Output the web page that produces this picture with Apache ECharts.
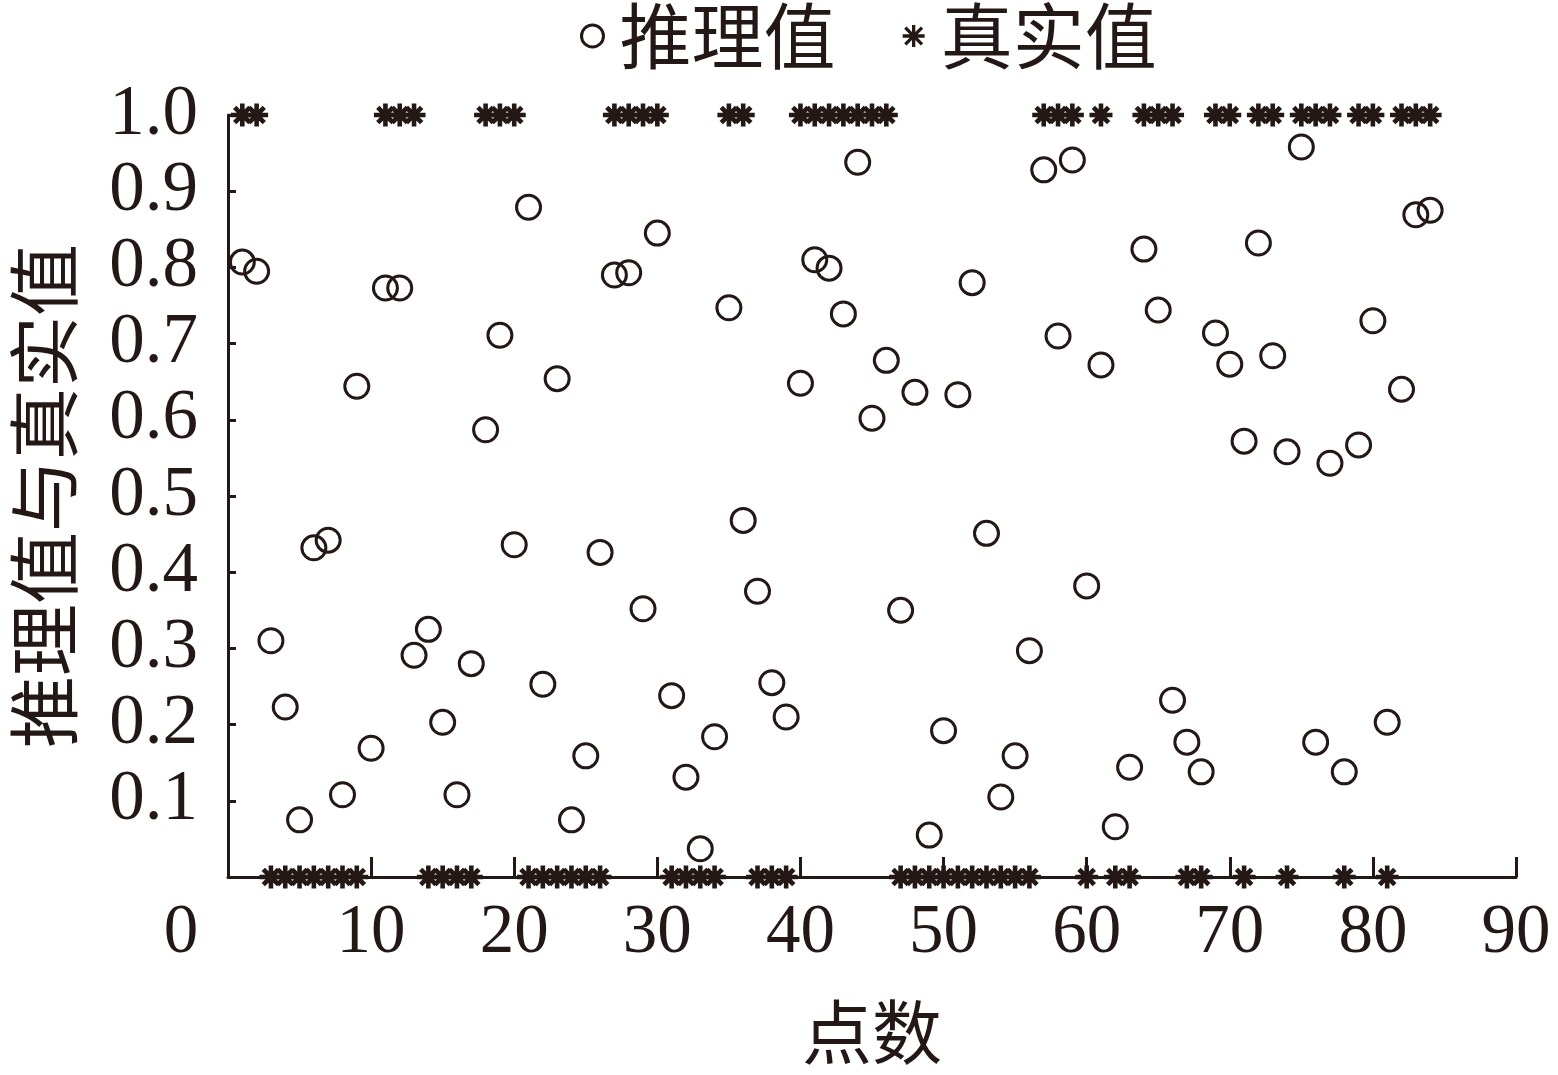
<!DOCTYPE html>
<html>
<head>
<meta charset="utf-8">
<title>推理值与真实值</title>
<script src="https://cdn.jsdelivr.net/npm/echarts@6/dist/echarts.min.js"></script>
<style>
    html, body { margin: 0; padding: 0; background: #fff; }
    #main { width: 1558px; height: 1075px; }
</style>
</head>
<body>
<div id="main"></div>
<script>
    var ink = '#231815';
    var cjkFont = '"Noto Sans CJK SC", sans-serif';
    var numFont = '"Liberation Serif", "Times New Roman", serif';

    // 点数
    var pointNo = [
        1, 2, 3, 4, 5, 6, 7, 8, 9, 10,
        11, 12, 13, 14, 15, 16, 17, 18, 19, 20,
        21, 22, 23, 24, 25, 26, 27, 28, 29, 30,
        31, 32, 33, 34, 35, 36, 37, 38, 39, 40,
        41, 42, 43, 44, 45, 46, 47, 48, 49, 50,
        51, 52, 53, 54, 55, 56, 57, 58, 59, 60,
        61, 62, 63, 64, 65, 66, 67, 68, 69, 70,
        71, 72, 73, 74, 75, 76, 77, 78, 79, 80,
        81, 82, 83, 84
    ];

    // 推理值
    var predicted = [
        0.807, 0.795, 0.310, 0.223, 0.075, 0.432, 0.442, 0.108, 0.644, 0.169,
        0.773, 0.773, 0.291, 0.325, 0.203, 0.108, 0.280, 0.587, 0.711, 0.436,
        0.879, 0.253, 0.654, 0.075, 0.159, 0.426, 0.790, 0.793, 0.352, 0.845,
        0.238, 0.131, 0.037, 0.184, 0.747, 0.468, 0.375, 0.255, 0.210, 0.648,
        0.810, 0.799, 0.739, 0.938, 0.602, 0.678, 0.350, 0.636, 0.055, 0.192,
        0.633, 0.780, 0.451, 0.105, 0.159, 0.297, 0.928, 0.710, 0.941, 0.382,
        0.672, 0.066, 0.144, 0.824, 0.744, 0.232, 0.177, 0.138, 0.714, 0.673,
        0.572, 0.832, 0.684, 0.558, 0.958, 0.177, 0.543, 0.138, 0.567, 0.730,
        0.203, 0.640, 0.869, 0.875
    ];

    // 真实值 (第10点图中没有)
    var actual = [
        1, 1, 0, 0, 0, 0, 0, 0, 0, null,
        1, 1, 1, 0, 0, 0, 0, 1, 1, 1,
        0, 0, 0, 0, 0, 0, 1, 1, 1, 1,
        0, 0, 0, 0, 1, 1, 0, 0, 0, 1,
        1, 1, 1, 1, 1, 1, 0, 0, 0, 0,
        0, 0, 0, 0, 0, 0, 1, 1, 1, 0,
        1, 0, 0, 1, 1, 1, 0, 0, 1, 1,
        0, 1, 1, 0, 1, 1, 1, 0, 1, 1,
        0, 1, 1, 1
    ];

    var xTicks = [0, 10, 20, 30, 40, 50, 60, 70, 80, 90];
    var yTicks = ['0.1', '0.2', '0.3', '0.4', '0.5', '0.6', '0.7', '0.8', '0.9', '1.0'];

    // 星号 (8 个角), 20x20
    var starSymbol = 'path://M8 0h4v20h-4z M0 8h20v4h-20z ' +
        'M4.8 1.9L18.1 15.2L15.2 18.1L1.9 4.8z M15.2 1.9L18.1 4.8L4.8 18.1L1.9 15.2z';
    // 图例里的星号: 两个极小的点撑开 44x24 的边界
    var starLegend = 'path://M0 0h0.05v0.05h-0.05z M43.95 23.95h0.05v0.05h-0.05z ' +
        'M20.2 0h3.6v24h-3.6z M10 10.2h24v3.6h-24z ' +
        'M14.2 1.6L32.4 19.8L29.8 22.4L11.6 4.2z M29.8 1.6L32.4 4.2L14.2 22.4L11.6 19.8z';

    var predData = [];
    var actualData = [];
    for (var i = 0; i < pointNo.length; i++) {
        predData.push([pointNo[i], predicted[i]]);
        if (actual[i] !== null) {
            actualData.push([pointNo[i], actual[i]]);
        }
    }

    var chart = echarts.init(document.getElementById('main'));

    chart.setOption({
        backgroundColor: '#fff',
        animation: false,
        legend: {
            left: 575,
            top: -5,
            itemWidth: 44,
            itemHeight: 22,
            itemGap: 58,
            textStyle: {
                fontFamily: cjkFont,
                fontSize: 72,
                lineHeight: 72,
                color: ink
            },
            data: [
                {
                    name: '推理值',
                    icon: 'circle',
                    itemStyle: { color: 'rgba(0,0,0,0)', borderColor: ink, borderWidth: 3 }
                },
                {
                    name: '真实值',
                    icon: starLegend,
                    itemStyle: { color: ink, borderWidth: 0 }
                }
            ]
        },
        grid: {
            left: 224,
            right: 42,
            top: 115,
            bottom: 198
        },
        xAxis: {
            type: 'value',
            min: 0,
            max: 90,
            interval: 10,
            name: '点数',
            nameLocation: 'middle',
            nameGap: 120,
            nameTextStyle: {
                fontFamily: cjkFont,
                fontSize: 70,
                color: ink
            },
            axisLine: { lineStyle: { color: ink, width: 3 } },
            axisTick: { inside: true, length: 20, lineStyle: { color: ink, width: 3 } },
            splitLine: { show: false },
            axisLabel: {
                margin: 22,
                fontFamily: numFont,
                fontSize: 69,
                color: ink,
                formatter: function (v) {
                    if (xTicks.indexOf(v) < 0) return '';
                    if (v === 0) return '{z|0}';
                    return String(v);
                },
                rich: {
                    z: {
                        fontFamily: numFont,
                        fontSize: 69,
                        color: ink,
                        padding: [0, 94, 0, 0]
                    }
                }
            }
        },
        yAxis: {
            type: 'value',
            min: 0,
            max: 1,
            interval: 0.1,
            name: '推理值与真实值',
            nameLocation: 'middle',
            nameGap: 148,
            nameTextStyle: {
                fontFamily: cjkFont,
                fontSize: 72,
                color: ink
            },
            axisLine: { show: true, lineStyle: { color: ink, width: 3 } },
            axisTick: { show: true, inside: true, length: 8, lineStyle: { color: ink, width: 3 } },
            splitLine: { show: false },
            axisLabel: {
                margin: 30,
                fontFamily: numFont,
                fontSize: 71,
                color: ink,
                formatter: function (v) {
                    var idx = Math.round(v * 10) - 1;
                    return idx >= 0 ? yTicks[idx] : '';
                }
            }
        },
        series: [
            {
                name: '推理值',
                type: 'scatter',
                symbol: 'circle',
                symbolSize: 24,
                clip: false,
                itemStyle: {
                    color: 'rgba(0,0,0,0)',
                    borderColor: ink,
                    borderWidth: 3,
                    opacity: 1
                },
                data: predData
            },
            {
                name: '真实值',
                type: 'scatter',
                symbol: starSymbol,
                symbolSize: 23,
                clip: false,
                itemStyle: {
                    color: ink,
                    opacity: 1
                },
                data: actualData
            }
        ]
    });
</script>
</body>
</html>
